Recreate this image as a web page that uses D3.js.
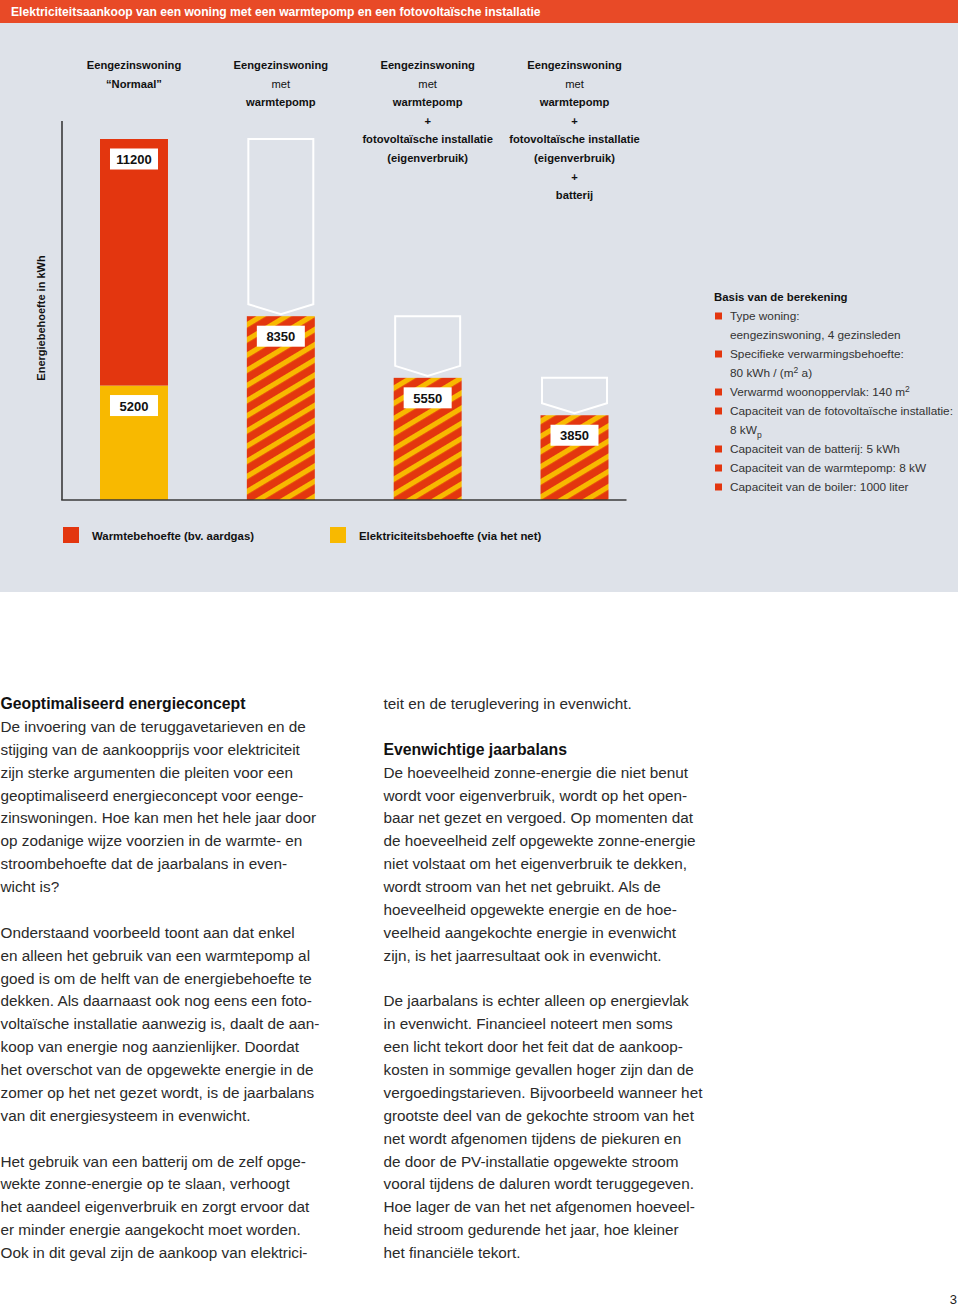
<!DOCTYPE html>
<html><head><meta charset="utf-8">
<script src="https://cdn.jsdelivr.net/npm/d3@7"></script>
<style>
body{margin:0;background:#fff}
svg{display:block;font-family:"Liberation Sans",Arial,Helvetica,sans-serif}
</style>
</head><body>
<svg id="c" width="960" height="1307"></svg>
<script>
// ---------- DATA ----------
const title = "Elektriciteitsaankoop van een woning met een warmtepomp en een fotovoltaïsche installatie";
const categories = ["normaal", "warmtepomp", "warmtepomp_pv", "warmtepomp_pv_batterij"];
const heatDemand = [11200, 0, 0, 0];          // Warmtebehoefte (bv. aardgas)
const gridElectricity = [5200, 0, 0, 0];      // Elektriciteitsbehoefte (via het net)
const heatPumpDemand = [0, 8350, 5550, 3850]; // gestreepte balken
const columnHeaders = [
  [["Eengezinswoning", 1], ["“Normaal”", 1]],
  [["Eengezinswoning", 1], ["met", 0], ["warmtepomp", 1]],
  [["Eengezinswoning", 1], ["met", 0], ["warmtepomp", 1], ["+", 1], ["fotovoltaïsche installatie", 1], ["(eigenverbruik)", 1]],
  [["Eengezinswoning", 1], ["met", 0], ["warmtepomp", 1], ["+", 1], ["fotovoltaïsche installatie", 1], ["(eigenverbruik)", 1], ["+", 1], ["batterij", 1]]
];
const yAxisLabel = "Energiebehoefte in kWh";
const legendLabels = ["Warmtebehoefte (bv. aardgas)", "Elektriciteitsbehoefte (via het net)"];
const basisTitle = "Basis van de berekening";
// each entry: [bullet?, segments]; segment: [text, "sup"|"sub"|""]
const basisLines = [
  [1, [["Type woning:", ""]]],
  [0, [["eengezinswoning, 4 gezinsleden", ""]]],
  [1, [["Specifieke verwarmingsbehoefte:", ""]]],
  [0, [["80 kWh / (m", ""], ["2", "sup"], [" a)", ""]]],
  [1, [["Verwarmd woonoppervlak: 140 m", ""], ["2", "sup"]]],
  [1, [["Capaciteit van de fotovoltaïsche installatie:", ""]]],
  [0, [["8 kW", ""], ["p", "sub"]]],
  [1, [["Capaciteit van de batterij: 5 kWh", ""]]],
  [1, [["Capaciteit van de warmtepomp: 8 kW", ""]]],
  [1, [["Capaciteit van de boiler: 1000 liter", ""]]]
];
const leftColumn = [
  ["Geoptimaliseerd energieconcept", 1],
  ["De invoering van de teruggavetarieven en de", 0],
  ["stijging van de aankoopprijs voor elektriciteit", 0],
  ["zijn sterke argumenten die pleiten voor een", 0],
  ["geoptimaliseerd energieconcept voor eenge-", 0],
  ["zinswoningen. Hoe kan men het hele jaar door", 0],
  ["op zodanige wijze voorzien in de warmte- en", 0],
  ["stroombehoefte dat de jaarbalans in even-", 0],
  ["wicht is?", 0],
  ["", 0],
  ["Onderstaand voorbeeld toont aan dat enkel", 0],
  ["en alleen het gebruik van een warmtepomp al", 0],
  ["goed is om de helft van de energiebehoefte te", 0],
  ["dekken. Als daarnaast ook nog eens een foto-", 0],
  ["voltaïsche installatie aanwezig is, daalt de aan-", 0],
  ["koop van energie nog aanzienlijker. Doordat", 0],
  ["het overschot van de opgewekte energie in de", 0],
  ["zomer op het net gezet wordt, is de jaarbalans", 0],
  ["van dit energiesysteem in evenwicht.", 0],
  ["", 0],
  ["Het gebruik van een batterij om de zelf opge-", 0],
  ["wekte zonne-energie op te slaan, verhoogt", 0],
  ["het aandeel eigenverbruik en zorgt ervoor dat", 0],
  ["er minder energie aangekocht moet worden.", 0],
  ["Ook in dit geval zijn de aankoop van elektrici-", 0]
];
const rightColumn = [
  ["teit en de teruglevering in evenwicht.", 0],
  ["", 0],
  ["Evenwichtige jaarbalans", 1],
  ["De hoeveelheid zonne-energie die niet benut", 0],
  ["wordt voor eigenverbruik, wordt op het open-", 0],
  ["baar net gezet en vergoed. Op momenten dat", 0],
  ["de hoeveelheid zelf opgewekte zonne-energie", 0],
  ["niet volstaat om het eigenverbruik te dekken,", 0],
  ["wordt stroom van het net gebruikt. Als de", 0],
  ["hoeveelheid opgewekte energie en de hoe-", 0],
  ["veelheid aangekochte energie in evenwicht", 0],
  ["zijn, is het jaarresultaat ook in evenwicht.", 0],
  ["", 0],
  ["De jaarbalans is echter alleen op energievlak", 0],
  ["in evenwicht. Financieel noteert men soms", 0],
  ["een licht tekort door het feit dat de aankoop-", 0],
  ["kosten in sommige gevallen hoger zijn dan de", 0],
  ["vergoedingstarieven. Bijvoorbeeld wanneer het", 0],
  ["grootste deel van de gekochte stroom van het", 0],
  ["net wordt afgenomen tijdens de piekuren en", 0],
  ["de door de PV-installatie opgewekte stroom", 0],
  ["vooral tijdens de daluren wordt teruggegeven.", 0],
  ["Hoe lager de van het net afgenomen hoeveel-", 0],
  ["heid stroom gedurende het jaar, hoe kleiner", 0],
  ["het financiële tekort.", 0]
];
const pageNumber = "3";

// ---------- STYLE ----------
const C = {
  header: "#e84a27", panel: "#dee2e9", red: "#e3360f", yellow: "#f8b900",
  ink: "#111", body: "#2a2a2a", axis: "#3a3a3a"
};

const svg = d3.select("#c");
const defs = svg.append("defs");
const pat = defs.append("pattern").attr("id", "stripes")
  .attr("patternUnits", "userSpaceOnUse").attr("width", 13).attr("height", 13)
  .attr("patternTransform", "rotate(-31)");
pat.append("rect").attr("width", 13).attr("height", 13).attr("fill", C.red);
pat.append("rect").attr("y", 0).attr("width", 13).attr("height", 5.2).attr("fill", C.yellow);

// background panels
svg.append("rect").attr("x", 0).attr("y", 0).attr("width", 958).attr("height", 23).attr("fill", C.header);
svg.append("rect").attr("x", 0).attr("y", 23).attr("width", 958).attr("height", 569).attr("fill", C.panel);
svg.append("text").attr("x", 11).attr("y", 16.3).attr("fill", "#fff")
  .attr("font-size", 12.1).attr("font-weight", "bold").text(title);

// scales
const rows = categories.map((c, i) => ({ cat: c, elec: gridElectricity[i], heat: heatDemand[i], hp: heatPumpDemand[i] }));
const keys = ["elec", "heat", "hp"];
const fills = { elec: C.yellow, heat: C.red, hp: "url(#stripes)" };
const stacked = d3.stack().keys(keys)(rows);
const totals = rows.map(r => r.elec + r.heat + r.hp);

const x = d3.scaleBand().domain(categories).range([100, 608.5]).paddingInner(0.537).paddingOuter(0);
const y = d3.scaleLinear().domain([0, d3.max(totals)]).range([500, 139]);

// column headers
const lineH = 18.6;
columnHeaders.forEach((lines, i) => {
  const cx = x(categories[i]) + x.bandwidth() / 2;
  lines.forEach((ln, j) => {
    svg.append("text").attr("x", cx).attr("y", 69 + j * lineH)
      .attr("text-anchor", "middle").attr("font-size", 11.2)
      .attr("font-weight", ln[1] ? "bold" : "normal").attr("fill", C.ink).text(ln[0]);
  });
});

// ghost outlines (previous total → current total)
const ghosts = rows.slice(1).map((r, k) => ({ cat: r.cat, from: totals[k], to: totals[k + 1] }));
svg.append("g").selectAll("path").data(ghosts).join("path")
  .attr("fill", "none").attr("stroke", "#fff").attr("stroke-width", 2)
  .attr("d", d => {
    const x0 = x(d.cat) + 1.5, x1 = x(d.cat) + x.bandwidth() - 1.5, cx = x(d.cat) + x.bandwidth() / 2;
    const top = y(d.from), tip = y(d.to) - 2;
    return `M${x0},${top}L${x1},${top}L${x1},${tip - 10}L${cx},${tip}L${x0},${tip - 10}Z`;
  });

// bars
const segs = [];
stacked.forEach(s => s.forEach(d => { if (d[1] > d[0]) segs.push({ key: s.key, cat: d.data.cat, y0: d[0], y1: d[1] }); }));
svg.append("g").selectAll("rect").data(segs).join("rect")
  .attr("x", d => x(d.cat)).attr("width", x.bandwidth())
  .attr("y", d => y(d.y1)).attr("height", d => y(d.y0) - y(d.y1))
  .attr("fill", d => fills[d.key]);

// value labels
const lab = svg.append("g").selectAll("g").data(segs).join("g")
  .attr("transform", d => `translate(${x(d.cat) + x.bandwidth() / 2},${y(d.y1) + 9.5})`);
lab.append("rect").attr("x", -24).attr("y", 0).attr("width", 48).attr("height", 21).attr("fill", "#fff");
lab.append("text").attr("y", 15.5).attr("text-anchor", "middle").attr("font-size", 13)
  .attr("font-weight", "bold").attr("fill", C.ink).text(d => d.y1 - d.y0);

// axes
svg.append("line").attr("x1", 62).attr("x2", 62).attr("y1", y.range()[1] - 18).attr("y2", y(0))
  .attr("stroke", C.axis).attr("stroke-width", 1.6);
svg.append("line").attr("x1", 61.2).attr("x2", x.range()[1] + 18).attr("y1", y(0)).attr("y2", y(0))
  .attr("stroke", C.axis).attr("stroke-width", 1.6);
svg.append("text").attr("transform", "translate(45,318) rotate(-90)").attr("text-anchor", "middle")
  .attr("font-size", 11).attr("font-weight", "bold").attr("fill", C.ink).text(yAxisLabel);

// basis box
svg.append("text").attr("x", 714).attr("y", 301).attr("font-size", 11.4).attr("font-weight", "bold")
  .attr("fill", C.ink).text(basisTitle);
basisLines.forEach((ln, i) => {
  const cy = 316 + i * 19;
  if (ln[0]) svg.append("rect").attr("x", 715).attr("y", cy - 3.5).attr("width", 7).attr("height", 7).attr("fill", C.red);
  const t = svg.append("text").attr("x", 730).attr("y", cy + 4).attr("font-size", 11.8).attr("fill", "#333");
  let shift = 0;
  ln[1].forEach(seg => {
    const target = seg[1] === "sup" ? -4.5 : seg[1] === "sub" ? 4 : 0;
    const ts = t.append("tspan").attr("dy", target - shift).text(seg[0]);
    shift = target;
    if (seg[1]) ts.attr("font-size", 8.5);
  });
});

// legend
const legendX = [63, 330];
legendLabels.forEach((l, i) => {
  svg.append("rect").attr("x", legendX[i]).attr("y", 527).attr("width", 16).attr("height", 16)
    .attr("fill", i === 0 ? C.red : C.yellow);
  svg.append("text").attr("x", legendX[i] + 29).attr("y", 540).attr("font-size", 11.4)
    .attr("font-weight", "bold").attr("fill", C.ink).text(l);
});

// body text
const bodyLH = 22.875;
function column(lines, x0) {
  lines.forEach((ln, i) => {
    if (!ln[0]) return;
    svg.append("text").attr("x", x0).attr("y", 709 + i * bodyLH)
      .attr("font-size", ln[1] ? 15.8 : 15.3).attr("font-weight", ln[1] ? "bold" : "normal")
      .attr("fill", ln[1] ? "#111" : C.body).text(ln[0]);
  });
}
column(leftColumn, 0.5);
column(rightColumn, 383.5);

svg.append("text").attr("x", 957).attr("y", 1304).attr("text-anchor", "end").attr("font-size", 13)
  .attr("fill", "#222").text(pageNumber);
</script>
</body></html>
